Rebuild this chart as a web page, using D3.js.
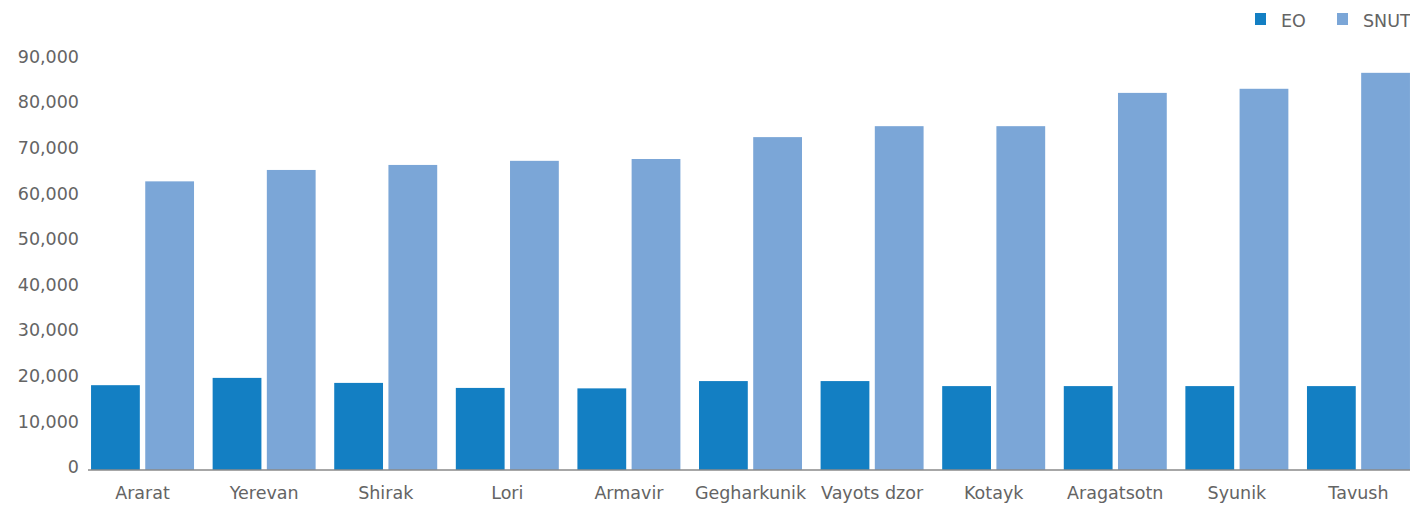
<!DOCTYPE html>
<html><head><meta charset="utf-8">
<script src="https://cdn.jsdelivr.net/npm/d3@7/dist/d3.min.js"></script>
<style>body{margin:0;background:#fff;overflow:hidden}</style>
</head><body>
<svg id="chart" width="1410" height="505"></svg>
<script>
const categories = ["Ararat","Yerevan","Shirak","Lori","Armavir","Gegharkunik","Vayots dzor","Kotayk","Aragatsotn","Syunik","Tavush"];
const seriesNames = ["EO","SNUT"];
const eoValues   = [18600, 20200, 19100, 18000, 17900, 19500, 19500, 18400, 18400, 18400, 18400];
const snutValues = [63300, 65800, 66900, 67800, 68200, 73000, 75400, 75400, 82700, 83600, 87100];
const yTicks = [0,10000,20000,30000,40000,50000,60000,70000,80000,90000];
const colors = ["#137FC3", "#7BA6D7"];

const svg = d3.select("#chart");
const font = "DejaVu Sans, sans-serif";
const textColor = "#646464";

const y = d3.scaleLinear().domain([0, 90000]).range([470, 59.6]);
const x0 = d3.scaleBand().domain(categories).range([88, 1413]).paddingInner(0.153).paddingOuter(0.025);
const x1 = d3.scaleBand().domain(seriesNames).range([0, x0.bandwidth()]).paddingInner(0.1);

const data = categories.map((c, i) => ({cat: c, vals: [eoValues[i], snutValues[i]]}));

const groups = svg.append("g").selectAll("g").data(data).join("g")
  .attr("transform", d => `translate(${x0(d.cat)},0)`);
groups.selectAll("rect").data(d => d.vals.map((v, j) => ({s: seriesNames[j], v, j})))
  .join("rect")
  .attr("x", d => x1(d.s))
  .attr("width", x1.bandwidth())
  .attr("y", d => y(d.v))
  .attr("height", d => y(0) - y(d.v))
  .attr("fill", d => colors[d.j]);

// Y axis labels
const yAxis = d3.axisLeft(y).tickValues(yTicks).tickSize(0).tickPadding(0)
  .tickFormat(d3.format(","));
const ya = svg.append("g").attr("transform", "translate(79,-3)").call(yAxis);
ya.select(".domain").remove();
ya.selectAll("text").attr("font-family", font).attr("font-size", "17.5px").attr("fill", textColor);

// X axis
const xAxis = d3.axisBottom(x0).tickSize(0).tickPadding(0);
const xa = svg.append("g").attr("transform", "translate(0,470)").call(xAxis);
xa.select(".domain").remove();
xa.selectAll("text").attr("font-family", font).attr("font-size", "17.5px").attr("fill", textColor)
  .attr("dy", null).attr("y", 29);
svg.append("line").attr("x1", 88).attr("x2", 1410).attr("y1", y(0)).attr("y2", y(0))
  .attr("stroke", "#8a8a8a").attr("stroke-width", 1.5);

// Legend
const legendX = [1255, 1337];
const lg = svg.append("g").selectAll("g").data(seriesNames).join("g")
  .attr("transform", (d, i) => `translate(${legendX[i]},13)`);
lg.append("rect").attr("width", 11).attr("height", 12).attr("fill", (d, i) => colors[i]);
lg.append("text").attr("x", 26).attr("y", 13.5).text(d => d)
  .attr("font-family", font).attr("font-size", "17.5px").attr("fill", textColor);
</script>
</body></html>
